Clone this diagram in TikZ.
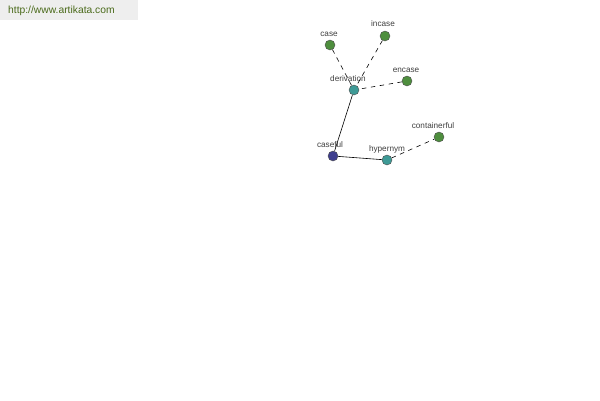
\documentclass[tikz,border=0pt]{standalone}
\usepackage{fontspec}
\setmainfont{Liberation Sans}
\begin{document}
\begin{tikzpicture}[x=1pt,y=-1pt,
  dot/.style={circle,draw=black!70,line width=0.4pt,minimum size=10pt,inner sep=0pt},
  green/.style={dot,fill=wgreen},
  teal/.style={dot,fill=wteal},
  blue/.style={dot,fill=wblue},
  lbl/.style={font=\fontsize{8.2}{9}\selectfont,text=black!75,inner sep=0pt},
  rel/.style={line width=0.6pt,black},
  relD/.style={rel,dash pattern=on 4.5pt off 4.5pt}]
\definecolor{wgreen}{HTML}{4E8E3E}
\definecolor{wteal}{HTML}{3E9A96}
\definecolor{wblue}{HTML}{3E3E8E}
\definecolor{hdr}{HTML}{EEEEEE}
\definecolor{hdrtext}{HTML}{4A6A1A}
\useasboundingbox[fill=white] (0,0) rectangle (600,400);
\fill[hdr] (0,0) rectangle (138,20);
\node[anchor=west,inner sep=0pt,text=hdrtext,font=\fontsize{10.3}{11}\selectfont] (url) at (8,11) {http://www.artikata.com};

\node[green] (case) at (330,45) {};
\node[green] (incase) at (385,36) {};
\node[teal] (derivation) at (354,90) {};
\node[green] (encase) at (407,81) {};
\node[blue] (caseful) at (333,156) {};
\node[teal] (hypernym) at (387,160) {};
\node[green] (containerful) at (439,137) {};

\node[lbl] (lcase) at (329,34) {case};
\node[lbl] (lincase) at (383,24) {incase};
\node[lbl] (lderivation) at (348,79) {derivation};
\node[lbl] (lencase) at (406,70) {encase};
\node[lbl] (lcaseful) at (330,145) {caseful};
\node[lbl] (lhypernym) at (387,149) {hypernym};
\node[lbl] (lcontainerful) at (433,126) {containerful};

\draw[relD] (case) -- (derivation);
\draw[relD] (incase) -- (derivation);
\draw[relD] (encase) -- (derivation);
\draw[rel] (derivation) -- (caseful);
\draw[rel] (caseful) -- (hypernym);
\draw[relD] (hypernym) -- (containerful);
\end{tikzpicture}
\end{document}
